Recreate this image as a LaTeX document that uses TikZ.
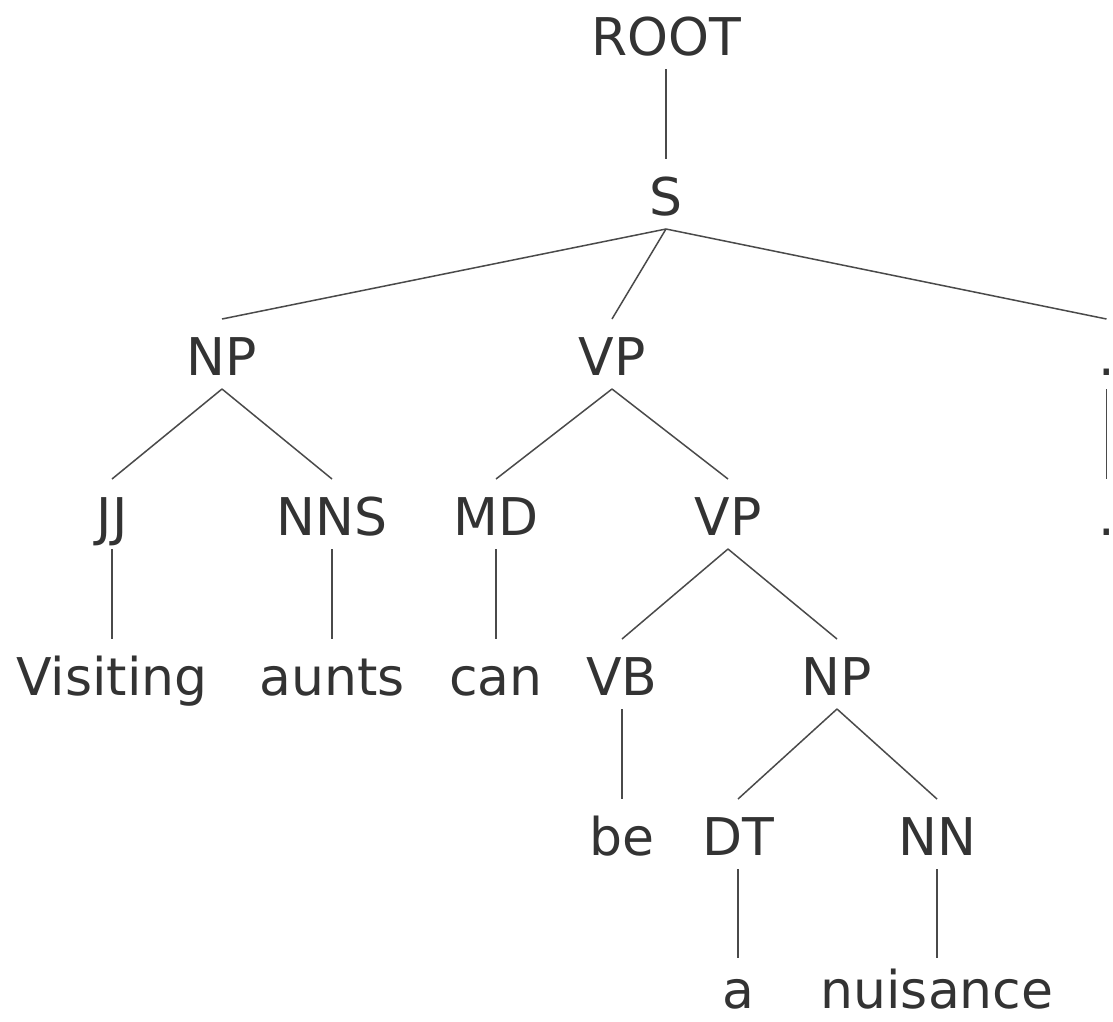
\documentclass[tikz,border=0pt]{standalone}
\usepackage{fontspec}
\setmainfont{DejaVu Sans}
\definecolor{txt}{HTML}{333333}
\definecolor{edge}{HTML}{4A4A4A}
\begin{document}
\begin{tikzpicture}[x=1pt,y=-1pt,
  lab/.style={anchor=base,inner sep=0pt,outer sep=0pt,text height=56pt,text depth=14pt,
    text=txt,font=\fontsize{52}{60}\selectfont},
  leaf/.style={lab,text depth=0pt,text height=50pt},
  br/.style={draw=edge,line width=1.5pt}]
\useasboundingbox (0,0) rectangle (1113,1021);
% row baselines: 55 + 160k
\node[lab] (root) at (666,55) {ROOT};
\node[lab] (s) at (666,215) {S};
\node[lab] (np1) at (222,375) {NP};
\node[lab] (vp1) at (612,375) {VP};
\node[lab] (dt0) at (1106.5,375) {.};
\node[lab] (jj) at (112,535) {JJ};
\node[lab] (nns) at (332,535) {NNS};
\node[lab] (md) at (496,535) {MD};
\node[lab] (vp2) at (728,535) {VP};
\node[lab] (dot) at (1106.5,535) {.};
\node[lab] (visiting) at (112,695) {Visiting};
\node[lab] (aunts) at (332,695) {aunts};
\node[lab] (can) at (496,695) {can};
\node[lab] (vb) at (622,695) {VB};
\node[lab] (np2) at (837,695) {NP};
\node[lab] (be) at (622,855) {be};
\node[lab] (det) at (738,855) {DT};
\node[lab] (nn) at (937,855) {NN};
\node[leaf] (a) at (738,1008) {a};
\node[leaf] (nuisance) at (937,1008) {nuisance};
\draw[br] (root.south) -- (s.north);
\draw[br] (s.south) -- (np1.north);
\draw[br] (s.south) -- (vp1.north);
\draw[br] (s.south) -- (dt0.north);
\draw[br] (np1.south) -- (jj.north);
\draw[br] (np1.south) -- (nns.north);
\draw[br] (vp1.south) -- (md.north);
\draw[br] (vp1.south) -- (vp2.north);
\draw[br] (dt0.south) -- (dot.north);
\draw[br] (jj.south) -- (visiting.north);
\draw[br] (nns.south) -- (aunts.north);
\draw[br] (md.south) -- (can.north);
\draw[br] (vp2.south) -- (vb.north);
\draw[br] (vp2.south) -- (np2.north);
\draw[br] (vb.south) -- (be.north);
\draw[br] (np2.south) -- (det.north);
\draw[br] (np2.south) -- (nn.north);
\draw[br] (det.south) -- (a.north);
\draw[br] (nn.south) -- (nuisance.north);
\end{tikzpicture}
\end{document}
